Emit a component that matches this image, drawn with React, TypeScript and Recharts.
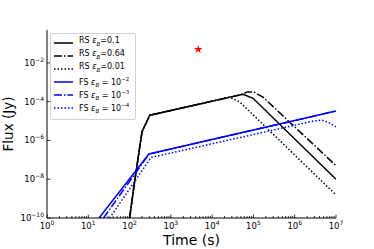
import { ComposedChart, Line, Scatter, XAxis, YAxis, ZAxis } from "recharts";

const FONT = "DejaVu Sans";

// tick positions
const xDecades = [0, 1, 2, 3, 4, 5, 6, 7];
const yTicks = [1e-10, 1e-8, 1e-6, 1e-4, 1e-2];

// reverse shock, eps_B = 0.1 / 0.64 / 0.01
const rs01Time = [100, 135, 200, 309, 5.6e4, 9.8e4, 1e7];
const rs01Flux = [1e-10, 1e-8, 2.8e-6, 2.0e-5, 2.4e-4, 1.5e-4, 1.0e-8];
const rs064Time = [100, 135, 200, 309, 5.0e4, 7.1e4, 1.0e5, 1.7e5, 1e7];
const rs064Flux = [1e-10, 1e-8, 2.8e-6, 2.0e-5, 2.3e-4, 3.2e-4, 3.2e-4, 1.74e-4, 5.0e-8];
const rs001Time = [100, 135, 200, 309, 2.6e4, 4.6e4, 1e7];
const rs001Flux = [1e-10, 1e-8, 2.8e-6, 2.0e-5, 1.7e-4, 1.0e-4, 1.55e-9];

// forward shock, eps_B = 1e-2 / 1e-3 / 1e-4
const fs2Time = [18.2, 295, 1e7];
const fs2Flux = [1e-10, 2.0e-7, 3.3e-5];
const fs3Time = [23.4, 295, 1e7];
const fs3Flux = [1e-10, 2.0e-7, 3.3e-5];
const fs4Time = [33, 331, 2.8e6, 4.5e6, 6.3e6, 1e7];
const fs4Flux = [1e-10, 1.32e-7, 1.0e-5, 1.12e-5, 8.9e-6, 5.0e-6];

// observed point
const starTime = [4600];
const starFlux = [0.05];

const zip = (t: number[], f: number[]) => t.map((v, i) => ({ t: v, f: f[i] }));

const DASHDOT = "8 2 1.5 2";
const DOTTED = "1.5 2";

const series = [
  { key: "rs01", label: "RS", eps: "=0.1", color: "#000", dash: undefined, data: zip(rs01Time, rs01Flux) },
  { key: "rs064", label: "RS", eps: "=0.64", color: "#000", dash: DASHDOT, data: zip(rs064Time, rs064Flux) },
  { key: "rs001", label: "RS", eps: "=0.01", color: "#000", dash: DOTTED, data: zip(rs001Time, rs001Flux) },
  { key: "fs2", label: "FS", eps: "-2", color: "#0000ff", dash: undefined, data: zip(fs2Time, fs2Flux) },
  { key: "fs3", label: "FS", eps: "-3", color: "#0000ff", dash: DASHDOT, data: zip(fs3Time, fs3Flux) },
  { key: "fs4", label: "FS", eps: "-4", color: "#0000ff", dash: DOTTED, data: zip(fs4Time, fs4Flux) },
];

const xTicks: number[] = [];
xDecades.forEach((d) => {
  xTicks.push(10 ** d);
  if (d < 7) for (let m = 2; m < 10; m++) xTicks.push(m * 10 ** d);
});

const XTick = ({ x, y, payload }: any) => {
  const e = Math.log10(payload.value);
  const major = Math.abs(e - Math.round(e)) < 1e-9;
  return (
    <g>
      <line x1={x} x2={x} y1={y} y2={y - (major ? 3.5 : 2)} stroke="#000" strokeWidth={0.8} />
      {major && (
        <text x={x} y={y + 11} textAnchor="middle" fontSize={8.5} fontFamily={FONT} fill="#000">
          10<tspan dy={-4} fontSize={6}>{Math.round(e)}</tspan>
        </text>
      )}
    </g>
  );
};

const YTick = ({ x, y, payload }: any) => {
  const e = Math.round(Math.log10(payload.value));
  return (
    <g>
      <line x1={x} x2={x + 3.5} y1={y} y2={y} stroke="#000" strokeWidth={0.8} />
      <text x={x - 3} y={y + 3} textAnchor="end" fontSize={8.5} fontFamily={FONT} fill="#000">
        10<tspan dy={-4} fontSize={6}>{"\u2212" + Math.abs(e)}</tspan>
      </text>
    </g>
  );
};

const LegendBox = () => (
  <div
    style={{
      position: "absolute",
      left: 50,
      top: 33,
      width: 84,
      height: 83,
      border: "1px solid #d0d0d0",
      borderRadius: 2,
      background: "rgba(255,255,255,0.8)",
      fontFamily: FONT,
      fontSize: 8,
      paddingTop: 2,
    }}
  >
    {series.map((s) => (
      <div key={s.key} style={{ display: "flex", alignItems: "center", height: 13.1 }}>
        <svg width={26} height={10} style={{ flex: "none" }}>
          <line x1={3} x2={22} y1={5} y2={5} stroke={s.color} strokeWidth={1.5} strokeDasharray={s.dash} />
        </svg>
        <span style={{ marginLeft: 2, whiteSpace: "nowrap", lineHeight: "10px" }}>
          {s.label} <i>ε</i>
          <sub style={{ fontSize: 5.5 }}>
            <i>B</i>
          </sub>
          {s.label === "RS" ? (
            s.eps
          ) : (
            <>
              {" = 10"}
              <sup style={{ fontSize: 5.5 }}>{"\u2212" + s.eps.slice(1)}</sup>
            </>
          )}
        </span>
      </div>
    ))}
  </div>
);

export default function App() {
  return (
    <div style={{ position: "absolute", left: 0, top: 0, width: 374, height: 249, background: "#fff" }}>
      <ComposedChart width={374} height={249} margin={{ top: 30, right: 38, bottom: 0, left: 0 }}>
        <XAxis
          dataKey="t"
          type="number"
          scale="log"
          domain={[1, 1e7]}
          allowDataOverflow
          ticks={xTicks}
          interval={0}
          tick={<XTick />}
          tickSize={0}
          tickMargin={0}
          tickLine={false}
          height={31}
          axisLine={{ stroke: "#000", strokeWidth: 1 }}
          label={{ value: "Time (s)", position: "insideBottom", offset: 4, fontSize: 14, fontFamily: FONT, fill: "#000" }}
        />
        <XAxis
          xAxisId="top"
          orientation="top"
          dataKey="t"
          type="number"
          scale="log"
          domain={[1, 1e7]}
          allowDataOverflow
          tick={false}
          tickLine={false}
          height={0}
          axisLine={{ stroke: "#000", strokeWidth: 1 }}
        />
        <YAxis
          dataKey="f"
          type="number"
          scale="log"
          domain={[1e-10, 0.5]}
          allowDataOverflow
          ticks={yTicks}
          interval={0}
          tick={<YTick />}
          tickSize={0}
          tickMargin={0}
          tickLine={false}
          width={47}
          axisLine={{ stroke: "#000", strokeWidth: 1 }}
          label={{
            content: ({ viewBox }: any) => (
              <text
                x={13}
                y={viewBox.y + viewBox.height / 2}
                transform={`rotate(-90, 13, ${viewBox.y + viewBox.height / 2})`}
                textAnchor="middle"
                fontSize={13.5}
                fontFamily={FONT}
                fill="#000"
              >
                Flux (Jy)
              </text>
            ),
          }}
        />
        <YAxis
          yAxisId="right"
          orientation="right"
          type="number"
          scale="log"
          domain={[1e-10, 0.5]}
          allowDataOverflow
          tick={false}
          tickLine={false}
          width={0}
          axisLine={{ stroke: "#000", strokeWidth: 1 }}
        />
        <ZAxis range={[22, 22]} />
        {series.map((s) => (
          <Line
            key={s.key}
            data={s.data}
            dataKey="f"
            type="linear"
            stroke={s.color}
            strokeWidth={1.5}
            strokeDasharray={s.dash}
            dot={false}
            activeDot={false}
            isAnimationActive={false}
          />
        ))}
        <Scatter data={zip(starTime, starFlux)} dataKey="f" shape="star" fill="#ff0000" isAnimationActive={false} />
      </ComposedChart>
      <LegendBox />
    </div>
  );
}
